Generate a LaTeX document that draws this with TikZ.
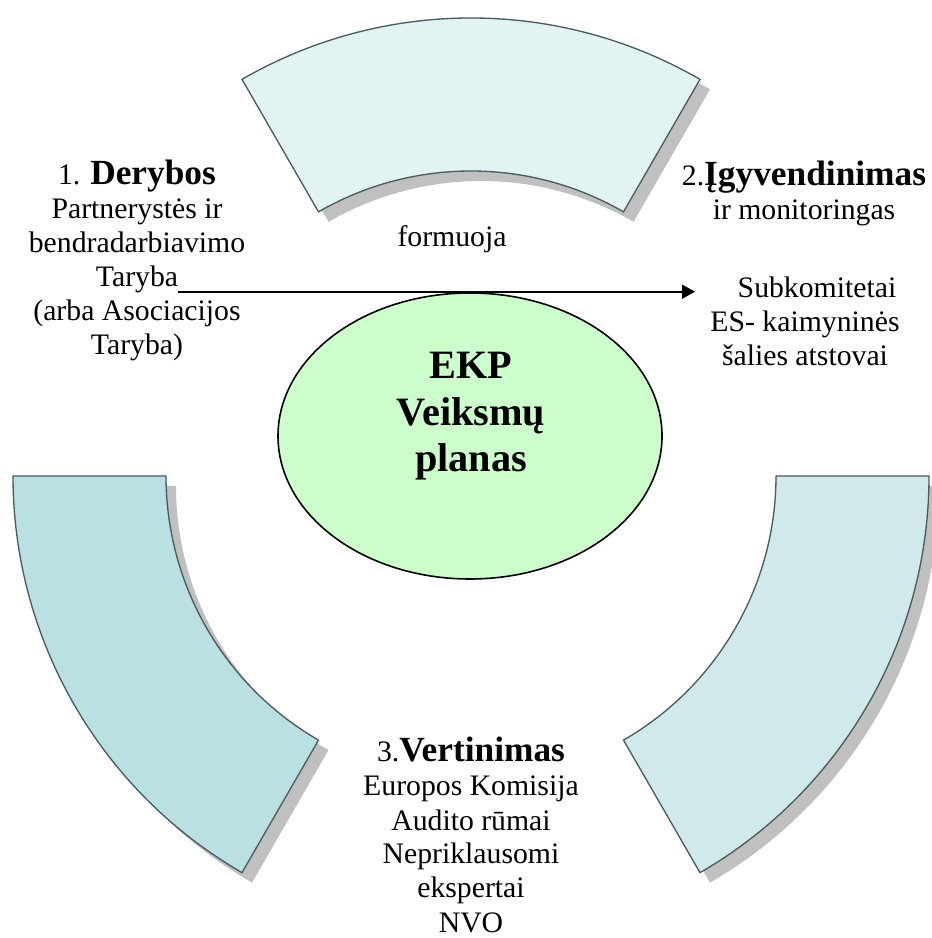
\documentclass[tikz,border=0pt]{standalone}
\usepackage{fontspec}
\setmainfont{Liberation Serif}
\usetikzlibrary{calc,arrows.meta,shapes.geometric}

\definecolor{ringTop}{HTML}{E1F3F3}
\definecolor{ringLeft}{HTML}{BAE0E3}
\definecolor{ringRight}{HTML}{D0EAEB}
\definecolor{ringLine}{HTML}{4A5C5C}
\definecolor{ringShadow}{HTML}{C0C0C0}
\definecolor{planGreen}{HTML}{CCFFCC}

\newcommand{\bodysize}{\fontsize{22.3}{25.5}\selectfont}
\newcommand{\headsize}{\fontsize{26.5}{25.5}\selectfont}

\begin{document}
\begin{tikzpicture}[x=0.75pt,y=0.75pt,
  ringpiece/.style={draw=ringLine,line width=1pt,line join=miter},
  txt/.style={font=\bodysize,align=center,inner sep=0pt,anchor=base},
  flow/.style={line width=1.3pt,-{Triangle[length=9.75pt,width=10.5pt]}},
  ]
\useasboundingbox (0,0) rectangle (931,938);

% ring of three segments around a common centre, each with a drop shadow
\def\Rout{458}
\def\Rin{305}
\coordinate (C) at (471,462);
\coordinate (S) at (481,452);
\foreach \a/\b/\col in {60/120/ringTop,180/240/ringLeft,300/360/ringRight}{
  \fill[ringShadow] ($(S)+(\a:\Rout)$) arc[start angle=\a,end angle=\b,radius=\Rout]
     -- ($(S)+(\b:\Rin)$) arc[start angle=\b,end angle=\a,radius=\Rin] -- cycle;
  \filldraw[ringpiece,fill=\col] ($(C)+(\a:\Rout)$) arc[start angle=\a,end angle=\b,radius=\Rout]
     -- ($(C)+(\b:\Rin)$) arc[start angle=\b,end angle=\a,radius=\Rin] -- cycle;
}

% central action plan (multi-line nodes are placed by the baseline of their last line)
\node[ellipse,draw=black,line width=1.2pt,fill=planGreen,
      minimum width=288pt,minimum height=214.5pt,inner sep=0pt] (plan) at (470,502) {};
\node[txt,font=\fontsize{30.2}{35.2}\selectfont\bfseries] (plantitle) at (471,466)
  {EKP\\Veiksmų\\planas};

% stage texts
\node[txt] (derybos) at (137,583)
  {1. {\headsize\bfseries Derybos}\\Partnerystės ir\\bendradarbiavimo\\Taryba\\(arba Asociacijos\\Taryba)};
\node[txt] (igyv) at (804,718)
  {2.{\headsize\bfseries Įgyvendinimas}\\ir monitoringas};
\node[txt] (subkom) at (805,572)
  {\hspace*{18pt}Subkomitetai\\ES- kaimyninės\\šalies atstovai};
\node[txt] (formuoja) at (452,691) {formuoja};
\node[txt] (vert) at (471,6)
  {3.{\headsize\bfseries Vertinimas}\\Europos Komisija\\Audito rūmai\\Nepriklausomi\\ekspertai\\NVO};

% flow from the council to the subcommittees
\coordinate (flowStart) at (178,646.3);
\coordinate (flowEnd) at (695,646.3);
\draw[flow] (flowStart) -- (flowEnd);
\end{tikzpicture}
\end{document}
